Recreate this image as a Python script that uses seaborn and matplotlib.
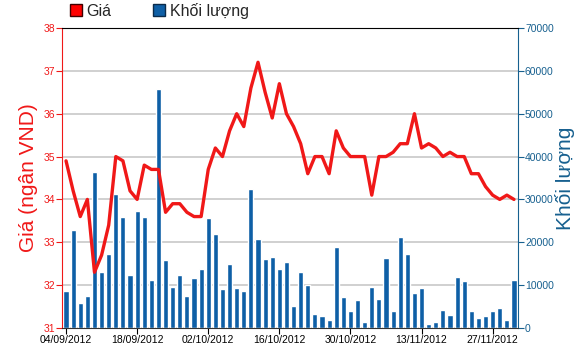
import pandas as pd
import seaborn as sns
import matplotlib.pyplot as plt
from matplotlib.patches import Patch

# trading days 04/09/2012 - 30/11/2012
dates = pd.bdate_range("2012-09-04", "2012-11-30")

price = [34.9, 34.2, 33.6, 34.0, 32.3, 32.7, 33.4, 35.0, 34.9, 34.2,
         34.0, 34.8, 34.7, 34.7, 33.7, 33.9, 33.9, 33.7, 33.6, 33.6,
         34.7, 35.2, 35.0, 35.6, 36.0, 35.7, 36.6, 37.2, 36.5, 35.9,
         36.7, 36.0, 35.7, 35.3, 34.6, 35.0, 35.0, 34.6, 35.6, 35.2,
         35.0, 35.0, 35.0, 34.1, 35.0, 35.0, 35.1, 35.3, 35.3, 36.0,
         35.2, 35.3, 35.2, 35.0, 35.1, 35.0, 35.0, 34.6, 34.6, 34.3,
         34.1, 34.0, 34.1, 34.0]

volume = [8700, 22870, 5900, 7400, 36300, 13000, 17200, 31270, 25900, 12370,
          27300, 25900, 11270, 55700, 15800, 9640, 12370, 7400, 11600, 13840,
          25590, 21930, 9020, 14930, 9330, 8700, 32360, 20840, 16100, 16570,
          13840, 15470, 5130, 13000, 10100, 3190, 2870, 1790, 18830, 7160,
          3970, 6460, 1470, 9570, 6770, 16410, 3970, 21300, 17200, 8170,
          9330, 930, 1470, 4200, 3110, 11830, 10970, 3970, 2330, 2870,
          3970, 4590, 1790, 11270]

price_ticks = [31, 32, 33, 34, 35, 36, 37, 38]
volume_ticks = [0, 10000, 20000, 30000, 40000, 50000, 60000, 70000]
label_every = 10

RED = "#f01818"
BLUE = "#0e5fa6"
DARK_BLUE = "#17608f"

df = pd.DataFrame({"day": range(len(dates)), "date": dates,
                   "price": price, "volume": volume})

sns.set_style("white")
plt.rcParams["font.family"] = ["Liberation Sans", "DejaVu Sans"]

fig = plt.figure(figsize=(5.87, 3.52), dpi=100)
ax = fig.add_axes([0.1056, 0.0682, 0.7769, 0.8523])
ax2 = ax.twinx()

# volume bars (right axis)
sns.barplot(data=df, x="day", y="volume", ax=ax2, color=BLUE,
            saturation=1, width=0.72)
ax2.set_ylim(0, 70000)
ax2.set_yticks(volume_ticks)
ax2.set_yticklabels([str(v) for v in volume_ticks])
ax2.grid(axis="y", color="#c8c8c8", lw=1.2)
ax2.set_axisbelow(True)
ax2.set_ylabel("Khối lượng", color=DARK_BLUE, fontsize=15, labelpad=1)
ax2.tick_params(axis="y", colors=DARK_BLUE, labelsize=7.5, length=4,
                direction="out", pad=1)

# price line (left axis) on top
sns.lineplot(data=df, x="day", y="price", ax=ax, color=RED, lw=2.4)
ax.set_zorder(ax2.get_zorder() + 1)
ax.patch.set_visible(False)
ax.set_ylim(31, 38)
ax.set_yticks(price_ticks)
ax.set_ylabel("Giá (ngân VND)", color=RED, fontsize=15, labelpad=4)
ax.tick_params(axis="y", colors=RED, labelsize=7.5, length=4,
               direction="out", pad=1, left=True)

ax.set_xlim(-0.57, len(dates) - 0.43)
tick_pos = list(range(0, len(dates), label_every))
ax.set_xticks(tick_pos)
ax.set_xticklabels([dates[i].strftime("%d/%m/%Y") for i in tick_pos])
ax.tick_params(axis="x", colors="black", labelsize=7.5, length=4,
               direction="out", pad=1, bottom=True)
ax.set_xlabel("")
ax2.set_xlabel("")

for a in (ax, ax2):
    for s in a.spines.values():
        s.set_visible(False)
ax.spines["left"].set_visible(True)
ax.spines["left"].set_color(RED)
ax.spines["top"].set_visible(True)
ax.spines["top"].set_color("black")
ax.spines["bottom"].set_visible(True)
ax.spines["bottom"].set_color("#333333")
ax2.spines["right"].set_visible(True)
ax2.spines["right"].set_color(DARK_BLUE)

handles = [Patch(facecolor="#ff0000", edgecolor="#400000", label="Giá"),
           Patch(facecolor=BLUE, edgecolor="#0a2a4a", label="Khối lượng")]
fig.legend(handles=handles, loc="upper left", bbox_to_anchor=(0.108, 1.01),
           ncol=2, frameon=False, fontsize=11.5, handlelength=0.75,
           handleheight=0.75, handletextpad=0.3, columnspacing=2.6,
           borderaxespad=0)

fig.savefig("out.png", dpi=100)
